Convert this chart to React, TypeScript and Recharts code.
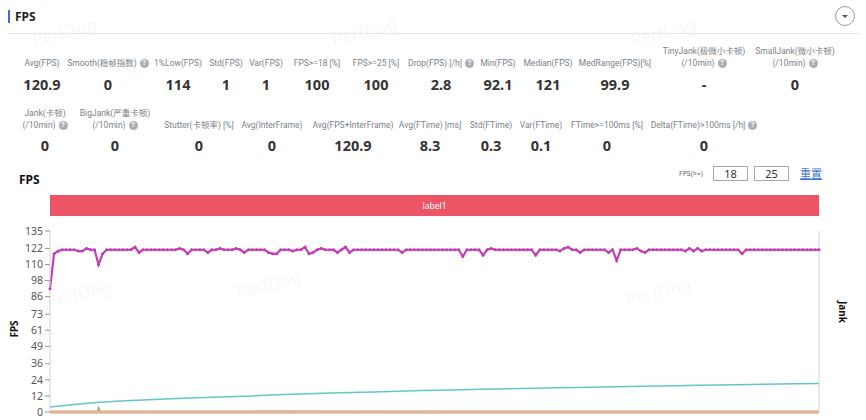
import React from 'react';
import { ComposedChart, Line, XAxis, YAxis } from 'recharts';

// stats block
const statLabels1 = ['Avg(FPS)', 'Smooth(稳帧指数)', '1%Low(FPS)', 'Std(FPS)', 'Var(FPS)', 'FPS>=18 [%]', 'FPS>=25 [%]', 'Drop(FPS) [/h]', 'Min(FPS)', 'Median(FPS)', 'MedRange(FPS)[%]', 'TinyJank(极微小卡顿)|(/10min)', 'SmallJank(微小卡顿)|(/10min)'];
const statValues1 = ['120.9', '0', '114', '1', '1', '100', '100', '2.8', '92.1', '121', '99.9', '-', '0'];
const statHelp1 = [false, true, false, false, false, false, false, true, false, false, false, true, true];

const statLabels2 = ['Jank(卡顿)|(/10min)', 'BigJank(严重卡顿)|(/10min)', 'Stutter(卡顿率) [%]', 'Avg(InterFrame)', 'Avg(FPS+InterFrame)', 'Avg(FTime) [ms]', 'Std(FTime)', 'Var(FTime)', 'FTime>=100ms [%]', 'Delta(FTime)>100ms [/h]'];
const statValues2 = ['0', '0', '0', '0', '120.9', '8.3', '0.3', '0.1', '0', '0'];
const statHelp2 = [true, true, false, false, false, false, false, false, false, true];

// chart data
const fps = [
  92, 118, 120, 121, 121, 121, 121, 120, 120, 122, 121, 121, 110, 118, 121, 121, 121, 121, 121, 121,
  121, 123, 119, 121, 121, 121, 121, 121, 121, 121, 121, 121, 122, 121, 118, 121, 121, 121, 121, 119,
  121, 121, 122, 121, 121, 121, 122, 121, 119, 121, 121, 121, 121, 121, 119, 118, 118, 121, 121, 121,
  120, 121, 121, 123, 118, 119, 121, 122, 121, 121, 121, 119, 121, 123, 119, 121, 121, 121, 121, 121,
  121, 121, 121, 121, 121, 121, 121, 119, 121, 121, 121, 121, 121, 121, 121, 121, 121, 121, 121, 121,
  121, 121, 116, 121, 121, 121, 121, 117, 121, 122, 121, 121, 121, 121, 121, 121, 121, 121, 121, 121,
  117, 121, 121, 121, 121, 121, 120, 122, 123, 121, 121, 119, 121, 121, 121, 121, 121, 121, 119, 121,
  113, 121, 121, 121, 121, 122, 120, 119, 121, 121, 121, 121, 121, 121, 121, 121, 121, 120, 122, 120,
  122, 120, 121, 121, 121, 121, 121, 121, 121, 121, 121, 118, 121, 121, 121, 121, 121, 121, 121, 121,
  121, 121, 121, 121, 121, 121, 121, 121, 121, 121, 121,
];
const teal = [3.8, 6.8, 8.5, 9.9, 11.0, 12.0, 13.3, 14.2, 15.0, 15.8, 16.5, 17.1, 17.7, 18.3, 18.9, 19.4, 19.9, 20.4, 20.8, 21.2];
const tealX = [0, 10, 20, 30, 40, 50, 60, 70, 80, 90, 100, 110, 120, 130, 140, 150, 160, 170, 180, 190];
const greenX = [0, 11.8, 12, 12.3, 190];
const green = [0, 0, 4, 0.5, 0];
const orangeX = [0, 190];
const orange = [0, 0];

const xTicks = [0, 10, 20, 30, 40, 50, 60, 70, 80, 90, 100, 110, 120, 130, 140, 150, 160, 170, 180, 190];
const yTicks = [0, 12, 24, 36, 49, 61, 73, 86, 98, 110, 122, 135];

const fpsData = fps.map((v, i) => ({ x: i, v }));
const tealData = teal.map((v, i) => ({ x: tealX[i], v }));
const greenData = green.map((v, i) => ({ x: greenX[i], v }));
const orangeData = orange.map((v, i) => ({ x: orangeX[i], v }));

const FONT = '"Noto Sans", "Noto Sans CJK SC", sans-serif';
const LABEL_FONT = 'Roboto, "Noto Sans CJK SC", sans-serif';
const row1X = [42, 108, 178, 226, 266, 317, 376, 441, 498, 548, 615, 704, 795];
const row2X = [45, 115, 199, 272, 353, 430, 491, 541, 607, 704];

function Help() {
  return (
    <span style={{ display: 'inline-block', width: 9, height: 9, borderRadius: 5, background: '#a9adb5', color: '#fff', fontSize: 7, lineHeight: '9px', textAlign: 'center', fontWeight: 700, marginLeft: 3, verticalAlign: 'middle' }}>?</span>
  );
}

function StatRow({ labels, values, help, xs, labelTop, valueTop }: any) {
  return (
    <>
      {labels.map((l: string, i: number) => {
        const lines = l.split('|');
        return (
          <div key={l}>
            <div style={{ position: 'absolute', left: xs[i] - 70, width: 140, top: labelTop, height: 26, display: 'flex', flexDirection: 'column', justifyContent: 'flex-end', alignItems: 'center', fontFamily: LABEL_FONT, fontSize: 8.5, lineHeight: '12px', color: '#7a7f88', whiteSpace: 'nowrap' }}>
              {lines.map((t, j) => (
                <div key={j}>{t}{help[i] && j === lines.length - 1 ? <Help /> : null}</div>
              ))}
            </div>
            <div style={{ position: 'absolute', left: xs[i] - 50, width: 100, top: valueTop, textAlign: 'center', fontSize: 14.5, lineHeight: '18px', fontWeight: 700, color: '#333' }}>{values[i]}</div>
          </div>
        );
      })}
    </>
  );
}

const marks = [[66, 38], [366, 38], [665, 38], [80, 300], [270, 290], [660, 298]];

export default function App() {
  return (
    <div style={{ position: 'relative', width: 866, height: 420, fontFamily: FONT, background: '#fff', overflow: 'hidden' }}>
      <style>{'body{margin:0}'}</style>
      <div style={{ position: 'absolute', left: 8, top: 10, width: 2, height: 13, background: '#3a6fe0' }} />
      <div style={{ position: 'absolute', left: 15, top: 8, fontSize: 12, fontWeight: 700, lineHeight: '17px', color: '#222' }}>FPS</div>
      <div style={{ position: 'absolute', left: 8, top: 33, width: 852, height: 1, background: '#e4e8ef' }} />
      <div style={{ position: 'absolute', left: 835, top: 6, width: 20, height: 20, borderRadius: 11, border: '1px solid #9a9a9a', boxSizing: 'border-box' }}>
        <div style={{ position: 'absolute', left: 6, top: 8, width: 0, height: 0, borderLeft: '3px solid transparent', borderRight: '3px solid transparent', borderTop: '3px solid #555' }} />
      </div>

      <StatRow labels={statLabels1} values={statValues1} help={statHelp1} xs={row1X} labelTop={43} valueTop={75} />
      <StatRow labels={statLabels2} values={statValues2} help={statHelp2} xs={row2X} labelTop={105} valueTop={136} />

      <div style={{ position: 'absolute', left: 19, top: 171, fontSize: 12, fontWeight: 700, lineHeight: '17px', color: '#111' }}>FPS</div>
      <div style={{ position: 'absolute', left: 679, top: 169, fontSize: 7, lineHeight: '10px', color: '#666' }}>FPS(&gt;=)</div>
      <div style={{ position: 'absolute', left: 713, top: 166, width: 35, height: 15, boxSizing: 'border-box', border: '1px solid #a8a8a8', fontSize: 11, lineHeight: '13px', textAlign: 'center', color: '#333' }}>18</div>
      <div style={{ position: 'absolute', left: 754, top: 166, width: 35, height: 15, boxSizing: 'border-box', border: '1px solid #a8a8a8', fontSize: 11, lineHeight: '13px', textAlign: 'center', color: '#333' }}>25</div>
      <div style={{ position: 'absolute', left: 800, top: 166, fontSize: 11, lineHeight: '15px', color: '#3a6fd8', textDecoration: 'underline' }}>重置</div>

      <div style={{ position: 'absolute', left: 0, top: 190 }}>
        <ComposedChart width={866} height={230} margin={{ top: 41, right: 0, bottom: 0, left: 0 }}>
          <XAxis type="number" dataKey="x" domain={[0, 190]} ticks={xTicks} tick={false} tickSize={5} height={8}
            axisLine={{ stroke: '#d6d6d6' }} tickLine={{ stroke: '#aaa' }} allowDuplicatedCategory={false} />
          <YAxis yAxisId="left" domain={[0, 135]} ticks={yTicks} width={50} interval={0}
            axisLine={{ stroke: '#cfd3da' }} tickLine={{ stroke: '#999' }} tickSize={5}
            tick={{ fill: '#555', fontSize: 10.5 }} />
          <YAxis yAxisId="right" orientation="right" domain={[0, 1]} ticks={[0, 1]} width={47}
            axisLine={{ stroke: '#cfd3da' }} tickLine={{ stroke: '#999' }} tickSize={5}
            tick={{ fill: '#555', fontSize: 10.5 }} />
          <Line yAxisId="left" data={tealData} dataKey="v" type="monotone" stroke="#63c8c2" strokeWidth={1.5} dot={false} isAnimationActive={false} />
          <Line yAxisId="left" data={greenData} dataKey="v" type="linear" stroke="#69b85a" strokeWidth={1.2} dot={false} isAnimationActive={false} />
          <Line yAxisId="left" data={orangeData} dataKey="v" type="linear" stroke="#e39566" strokeWidth={3} dot={false} isAnimationActive={false} />
          <Line yAxisId="left" data={fpsData} dataKey="v" type="linear" stroke="#c43db6" strokeWidth={2.2}
            dot={{ r: 1.5, fill: '#c43db6', stroke: 'none' }} isAnimationActive={false} />
        </ComposedChart>
      </div>

      <div style={{ position: 'absolute', left: 50, top: 195, width: 769, height: 21, background: '#ec5565', color: '#fff', fontSize: 8.5, lineHeight: '21px', textAlign: 'center' }}>label1</div>

      <div style={{ position: 'absolute', left: 4, top: 322, fontSize: 10, fontWeight: 700, transform: 'rotate(-90deg)', color: '#111', width: 20, textAlign: 'center' }}>FPS</div>
      <div style={{ position: 'absolute', left: 830, top: 305, fontSize: 10, fontWeight: 700, transform: 'rotate(90deg)', color: '#111', width: 26, textAlign: 'center' }}>Jank</div>

      <svg width={866} height={420} style={{ position: 'absolute', left: 0, top: 0, pointerEvents: 'none' }}>
        {marks.map(([x, y], i) => (
          <text key={i} x={x} y={y} textAnchor="middle" fontSize={17} fill="#000" fillOpacity={0.05}
            fontFamily={FONT} transform={`rotate(-14 ${x} ${y})`}>PerfDog</text>
        ))}
      </svg>
    </div>
  );
}
